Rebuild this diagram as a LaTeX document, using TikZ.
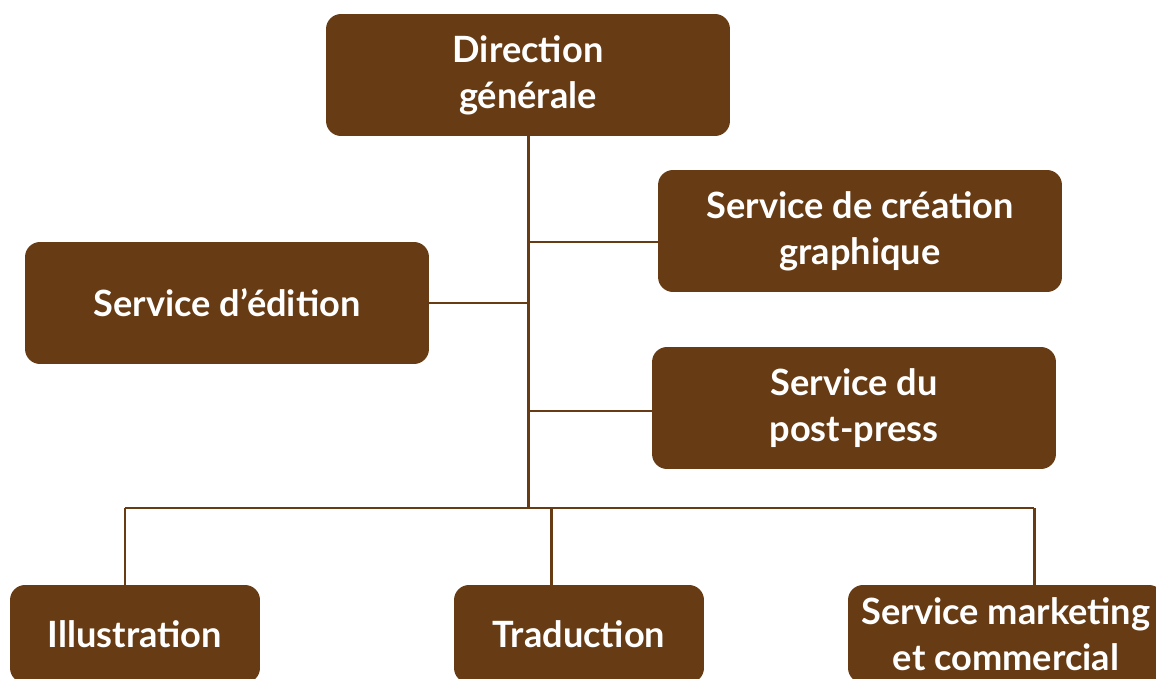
\documentclass[tikz,border=0pt]{standalone}
\usepackage{fontspec}
\setmainfont{Lato}
\usetikzlibrary{positioning}
\definecolor{brun}{RGB}{103,60,20}

\begin{document}
\begin{tikzpicture}[x=0.02cm,y=-0.02cm,
    box/.style={fill=brun,rounded corners=0.3cm,text=white,align=center,
      font=\bfseries\fontsize{20.6}{26}\selectfont,inner sep=0pt,
      minimum width=8.08cm,minimum height=2.44cm},
    petit/.style={box,minimum width=5cm,minimum height=1.96cm},
    lien/.style={draw=brun,line width=1.7pt}]
    \useasboundingbox (0,0) rectangle (1156,679);
    \node[box] (dir) at (528,75) {Direction\\générale};
    \node[box] (crea) at (860,231) {Service de création\\graphique};
    \node[box] (edit) at (227,303) {Service d’édition};
    \node[box] (post) at (854,408) {Service du\\post-press};
    \node[petit] (illu) at (135,634) {Illustration};
    \node[petit] (trad) at (579,634) {Traduction};
    \node[petit,minimum width=6.32cm] (mark) at (1006,634) {Service marketing\\et commercial};
    \coordinate (jonc) at (528,508);
    \coordinate (b1) at (125,508);
    \coordinate (b2) at (551,508);
    \coordinate (b3) at (1034,508);
    \path[lien] (dir.south) -- (jonc)
          ([yshift=-0.22cm]crea.west) -- ([yshift=-0.22cm]crea.west -| jonc)
          (edit.east) -- (edit.east -| jonc)
          ([yshift=-0.06cm]post.west) -- ([yshift=-0.06cm]post.west -| jonc)
          (b1) -- (b3)
          (b1) -- (b1 |- illu.north)
          (b2) -- (b2 |- trad.north)
          (b3) -- (b3 |- mark.north);
\end{tikzpicture}
\end{document}
